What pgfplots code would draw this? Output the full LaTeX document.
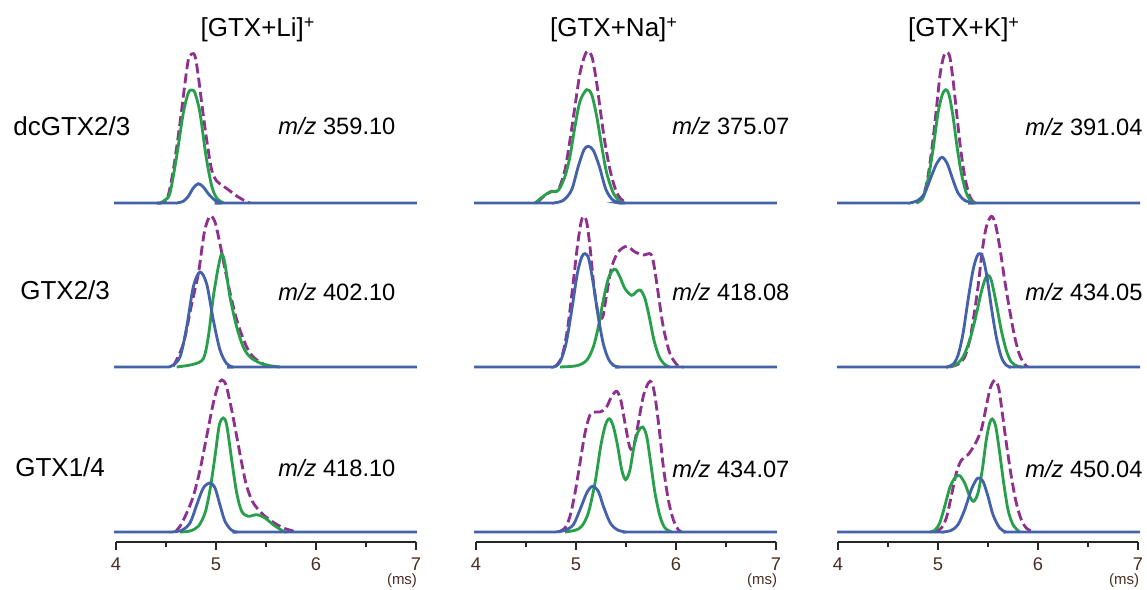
\documentclass[border=0pt]{standalone}
\usepackage{pgfplots}
\pgfplotsset{compat=1.18}
\usepackage{fontspec}
\setmainfont{Liberation Sans}

\definecolor{cpurple}{RGB}{142,48,142}
\definecolor{cgreen}{RGB}{40,160,75}
\definecolor{cblue}{RGB}{68,98,170}
\definecolor{ctick}{RGB}{75,45,35}
\def\u{0.6pt}

\pgfplotsset{
  panel/.style={scale only axis, width=180pt, height=96pt,
    xmin=4, xmax=7, ymin=0, ymax=160, clip=false,
    anchor=south west},
  top/.style={hide axis},
  bottom/.style={height=102pt, ymin=-10,
    axis x line=bottom, axis y line=none,
    axis line style={-, draw=black!85, line width=0.9pt},
    xtick={4,5,6,7}, minor xtick={4.5,5.5,6.5}, tick align=outside,
    ytick=\empty,
    major tick length=5pt, minor tick length=3pt,
    tick style={draw=black!85, line width=0.9pt},
    xticklabel style={font=\fontsize{11}{13}\selectfont, text=ctick, yshift=-1pt},
    /pgf/number format/assume math mode=true},
  pur/.style={cpurple, line width=1.7pt, dash pattern=on 6pt off 2.6pt, smooth, no marks},
  grn/.style={cgreen, line width=1.7pt, smooth, no marks},
  blu/.style={cblue, line width=1.7pt, smooth, no marks},
}

\begin{document}
\begin{tikzpicture}
\path[use as bounding box] (0,0) rectangle ({1147*\u},{-590*\u});

% ---------- column titles and row labels
\begin{scope}[font=\fontsize{15.6}{18}\selectfont]
\node[anchor=base] at ({258*\u},{-37*\u}) {[GTX+Li]\textsuperscript{+}};
\node[anchor=base] at ({614*\u},{-37*\u}) {[GTX+Na]\textsuperscript{+}};
\node[anchor=base] at ({964*\u},{-37*\u}) {[GTX+K]\textsuperscript{+}};
\node[anchor=base west, inner sep=0] at ({13*\u},{-136*\u}) {dcGTX2/3};
\node[anchor=base west, inner sep=0] at ({20*\u},{-299*\u}) {GTX2/3};
\node[anchor=base west, inner sep=0] at ({15*\u},{-476*\u}) {GTX1/4};
\end{scope}

\begin{scope}[font=\fontsize{14.2}{16}\selectfont]
\node[anchor=base west, inner sep=0] at ({278*\u},{-135*\u}) {\textit{m/z} 359.10};
\node[anchor=base west, inner sep=0] at ({672*\u},{-135*\u}) {\textit{m/z} 375.07};
\node[anchor=base west, inner sep=0] at ({1025*\u},{-136*\u}) {\textit{m/z} 391.04};
\node[anchor=base west, inner sep=0] at ({278*\u},{-300*\u}) {\textit{m/z} 402.10};
\node[anchor=base west, inner sep=0] at ({672*\u},{-300*\u}) {\textit{m/z} 418.08};
\node[anchor=base west, inner sep=0] at ({1025*\u},{-300*\u}) {\textit{m/z} 434.05};
\node[anchor=base west, inner sep=0] at ({278*\u},{-476*\u}) {\textit{m/z} 418.10};
\node[anchor=base west, inner sep=0] at ({672*\u},{-477*\u}) {\textit{m/z} 434.07};
\node[anchor=base west, inner sep=0] at ({1025*\u},{-477*\u}) {\textit{m/z} 450.04};
\end{scope}

\begin{scope}[font=\fontsize{9}{10}\selectfont, text=ctick]
\node at ({402*\u},{-581*\u}) {(ms)};
\node at ({762*\u},{-581*\u}) {(ms)};
\node at ({1124*\u},{-581*\u}) {(ms)};
\end{scope}

% ================= Li column
\begin{axis}[panel, top, at={({116*\u},{-203*\u})}]
\addplot[pur] coordinates {(4.407,0) (4.507,3.3) (4.573,33) (4.64,80) (4.69,120) (4.723,143) (4.757,149) (4.79,147) (4.823,127) (4.857,100) (4.907,63) (4.957,33) (5.007,22) (5.073,17) (5.14,12) (5.207,7) (5.273,3) (5.34,0)};
\addplot[grn] coordinates {(4.44,0) (4.49,3) (4.54,10) (4.607,47) (4.673,90) (4.723,110) (4.757,113) (4.79,110) (4.84,90) (4.9,47) (4.957,17) (5.007,5) (5.073,0)};
\addplot[blu] coordinates {(3.98,0) (4.55,0) (4.607,0) (4.673,1.7) (4.723,6.7) (4.773,15) (4.823,19.3) (4.873,16) (4.923,9.3) (4.99,2.7) (5.057,0) (5.12,0) (7.01,0)};
\end{axis}

\begin{axis}[panel, top, at={({116*\u},{-367*\u})}]
\addplot[pur] coordinates {(4.573,0.7) (4.673,23) (4.757,63) (4.823,93) (4.857,117) (4.89,138) (4.94,151) (4.99,145) (5.04,123) (5.09,98) (5.157,67) (5.223,42) (5.307,20) (5.373,10) (5.473,3) (5.573,0)};
\addplot[grn] coordinates {(4.607,0) (4.773,2.7) (4.873,8.3) (4.923,30) (4.973,70) (5.023,100) (5.057,113) (5.09,103) (5.14,70) (5.207,40) (5.273,20) (5.34,10) (5.44,4) (5.54,1.3) (5.64,0)};
\addplot[blu] coordinates {(3.98,0) (4.45,0) (4.507,0) (4.557,1) (4.64,10) (4.707,40) (4.773,80) (4.84,95) (4.907,83) (4.973,47) (5.04,17) (5.107,3.3) (5.173,0) (5.24,0) (7.01,0)};
\end{axis}

\begin{axis}[panel, bottom, at={({116*\u},{-542*\u})}]
\addplot[pur] coordinates {(4.59,0) (4.64,5.7) (4.707,19) (4.773,35.7) (4.84,62) (4.907,95.7) (4.973,129) (5.023,147) (5.057,152) (5.1,147) (5.157,122) (5.207,95.7) (5.257,69) (5.307,45.7) (5.373,29) (5.473,17.3) (5.573,9.7) (5.673,4) (5.807,0)};
\addplot[grn] coordinates {(4.64,0) (4.74,1) (4.823,5.7) (4.89,19) (4.94,42) (4.99,75.7) (5.033,107) (5.073,114) (5.107,107) (5.157,72) (5.207,39) (5.257,20.7) (5.323,15.7) (5.407,17.3) (5.49,14) (5.573,7.3) (5.673,0.7) (5.707,0)};
\addplot[blu] coordinates {(3.98,0) (4.5,0) (4.557,0) (4.657,1.7) (4.74,9) (4.807,27) (4.873,44) (4.94,49) (4.99,44) (5.04,27) (5.09,10.7) (5.157,1.7) (5.223,0) (5.29,0) (7.01,0)};
\end{axis}

% ================= Na column
\begin{axis}[panel, top, at={({476*\u},{-203*\u})}]
\addplot[pur] coordinates {(4.607,0) (4.69,7.7) (4.757,11.7) (4.823,13.3) (4.89,33.3) (4.94,63.3) (4.99,96.7) (5.04,130) (5.09,148) (5.123,151.7) (5.163,145) (5.207,120) (5.247,90) (5.29,60) (5.34,33.3) (5.39,15) (5.44,5) (5.507,0)};
\addplot[grn] coordinates {(4.59,0) (4.673,6.7) (4.74,11) (4.823,12.7) (4.89,26.7) (4.94,46.7) (4.99,76.7) (5.04,101.7) (5.107,113.3) (5.157,108.3) (5.207,86.7) (5.257,56.7) (5.307,30) (5.373,10) (5.44,1.7) (5.49,0)};
\addplot[blu] coordinates {(3.98,0) (4.7,0) (4.773,0) (4.873,2.7) (4.957,13.3) (5.023,36.7) (5.08,53.3) (5.123,56.7) (5.173,52.7) (5.233,36.7) (5.3,13.3) (5.373,2.7) (5.473,0) (5.55,0) (7.01,0)};
\end{axis}

\begin{axis}[panel, top, at={({476*\u},{-367*\u})}]
\addplot[pur] coordinates {(4.79,0) (4.857,10) (4.913,36.7) (4.967,80) (5.013,120) (5.047,143) (5.073,150.7) (5.107,145) (5.14,120) (5.18,80) (5.223,53) (5.267,50) (5.307,73) (5.357,100) (5.423,115) (5.507,120.7) (5.59,115) (5.673,112) (5.747,113) (5.78,101.7) (5.823,73) (5.873,40) (5.94,13.3) (6.023,0.7) (6.073,0)};
\addplot[grn] coordinates {(4.84,0) (5.007,1.3) (5.107,6.7) (5.173,20) (5.223,40) (5.273,66.7) (5.323,88.3) (5.367,96.7) (5.4,97.3) (5.44,90) (5.49,78.3) (5.557,71.7) (5.613,76) (5.647,76.7) (5.69,68.3) (5.733,50) (5.78,26.7) (5.833,10) (5.89,2.3) (5.94,0)};
\addplot[blu] coordinates {(3.98,0) (4.7,0) (4.773,0) (4.84,5) (4.9,23.3) (4.957,56.7) (5.013,93.3) (5.057,110) (5.09,113.3) (5.127,108.3) (5.173,83.3) (5.223,50) (5.273,23.3) (5.323,8.3) (5.373,1.7) (5.44,0) (5.5,0) (7.01,0)};
\end{axis}

\begin{axis}[panel, bottom, at={({476*\u},{-542*\u})}]
\addplot[pur] coordinates {(4.823,0) (4.89,4) (4.94,15.7) (4.99,39) (5.04,69) (5.09,99) (5.14,117) (5.19,120) (5.24,120) (5.3,124) (5.357,135.7) (5.407,140.7) (5.447,132.3) (5.49,109) (5.54,84) (5.58,87.3) (5.623,109) (5.673,135.7) (5.723,149) (5.757,149.7) (5.79,135.7) (5.833,102.3) (5.873,65.7) (5.923,32.3) (5.973,12.3) (6.023,2.3) (6.057,0)};
\addplot[grn] coordinates {(4.89,0) (4.99,1.7) (5.057,5.7) (5.123,19) (5.19,49) (5.247,85.7) (5.293,106.7) (5.333,113.3) (5.373,105.7) (5.417,85.7) (5.457,62.3) (5.497,52.3) (5.54,62.3) (5.58,85.7) (5.623,100.7) (5.667,105) (5.707,95.7) (5.747,69) (5.79,39) (5.84,15.7) (5.89,4) (5.957,0)};
\addplot[blu] coordinates {(3.98,0) (4.72,0) (4.79,0) (4.89,1.7) (4.973,7.3) (5.04,22.3) (5.107,39) (5.163,45.7) (5.223,40.7) (5.28,24) (5.347,8.3) (5.423,1.7) (5.507,0) (5.58,0) (7.01,0)};
\end{axis}

% ================= K column
\begin{axis}[panel, top, at={({838*\u},{-203*\u})}]
\addplot[pur] coordinates {(4.783,0) (4.85,6.7) (4.9,26.7) (4.95,63.3) (4.99,100) (5.023,130) (5.057,146.7) (5.083,150.7) (5.117,146.7) (5.15,123.3) (5.183,93.3) (5.223,56.7) (5.267,26.7) (5.317,6.7) (5.367,0)};
\addplot[grn] coordinates {(4.783,0) (4.85,5) (4.9,23.3) (4.95,53.3) (5,90) (5.043,108.3) (5.077,113.3) (5.11,108.3) (5.15,86.7) (5.19,56.7) (5.233,30) (5.283,10) (5.333,1.7) (5.383,0)};
\addplot[blu] coordinates {(3.99,0) (4.65,0) (4.717,0) (4.8,2.7) (4.867,10) (4.933,26.7) (4.99,40) (5.04,45.7) (5.09,40) (5.143,25) (5.2,10) (5.267,2.7) (5.35,0) (5.42,0) (7.02,0)};
\end{axis}

\begin{axis}[panel, top, at={({838*\u},{-367*\u})}]
\addplot[pur] coordinates {(5.117,0) (5.2,2.7) (5.267,10) (5.317,26.7) (5.357,50) (5.4,80) (5.443,116.7) (5.483,140) (5.533,150.7) (5.573,143.3) (5.617,120) (5.667,86.7) (5.717,56.7) (5.767,30) (5.817,11.7) (5.867,2.7) (5.9,0)};
\addplot[grn] coordinates {(5.1,0) (5.183,2.7) (5.25,10) (5.317,26.7) (5.377,50) (5.433,75) (5.473,88.3) (5.5,91.7) (5.533,86.7) (5.583,63.3) (5.633,36.7) (5.683,16.7) (5.733,5) (5.8,0.7) (5.85,0)};
\addplot[blu] coordinates {(3.99,0) (5.02,0) (5.083,0) (5.15,2.7) (5.2,11.7) (5.25,33.3) (5.3,66.7) (5.35,96.7) (5.39,110.7) (5.417,113.3) (5.45,109.3) (5.49,90) (5.533,60) (5.583,30) (5.633,10) (5.683,1.7) (5.733,0) (5.8,0) (7.02,0)};
\end{axis}

\begin{axis}[panel, bottom, at={({838*\u},{-542*\u})}]
\addplot[pur] coordinates {(4.967,0) (5.033,4) (5.083,14) (5.133,35.7) (5.183,59) (5.233,71.7) (5.3,77.3) (5.367,87.3) (5.433,102.3) (5.483,125.7) (5.523,144) (5.567,151.7) (5.607,144) (5.643,119) (5.683,89) (5.733,55.7) (5.783,29) (5.833,12.3) (5.883,4) (5.95,0)};
\addplot[grn] coordinates {(4.917,0) (4.967,1.7) (5.017,9) (5.067,25.7) (5.123,45.7) (5.177,55) (5.217,56.3) (5.267,49) (5.317,35.7) (5.357,30.7) (5.4,39) (5.443,62.3) (5.483,92.3) (5.517,109) (5.543,113) (5.577,105.7) (5.617,79) (5.657,49) (5.7,22.3) (5.75,7.3) (5.817,0)};
\addplot[blu] coordinates {(3.99,0) (4.98,0) (5.05,0) (5.133,1.7) (5.2,7.3) (5.267,22.3) (5.333,42.3) (5.383,52.3) (5.41,54) (5.45,50.7) (5.5,35.7) (5.55,17.3) (5.617,4) (5.683,0) (5.75,0) (7.02,0)};
\end{axis}
\end{tikzpicture}
\end{document}
